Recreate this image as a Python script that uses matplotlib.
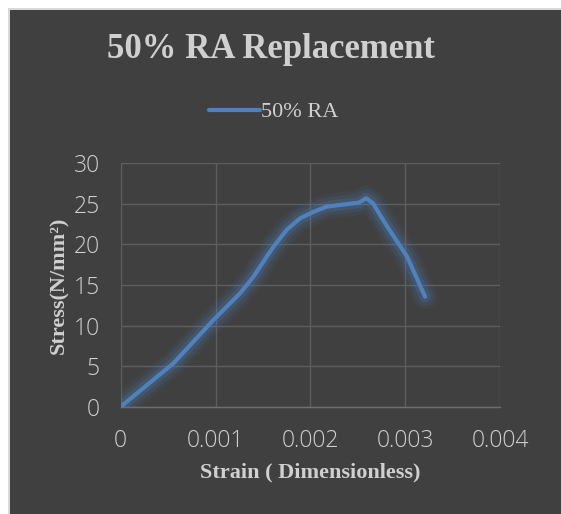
import matplotlib
matplotlib.use("Agg")
import matplotlib.pyplot as plt
import matplotlib.patheffects as pe
from matplotlib.patches import Rectangle

strain = [0, 0.000555, 0.000977, 0.001258, 0.001399, 0.00154, 0.00161, 0.00175,
          0.00189, 0.00203, 0.00217, 0.00231, 0.00251, 0.00259, 0.00266, 0.0028,
          0.00302, 0.00321]
stress = [0, 5.34, 10.68, 13.97, 16.0, 18.5, 19.7, 21.8,
          23.2, 24.0, 24.66, 24.86, 25.15, 25.7, 25.07, 22.4,
          18.5, 13.56]
series_name = "50% RA"
title = "50% RA Replacement"
xlabel = "Strain ( Dimensionless)"
ylabel = "Stress(N/mm\u00b2)"
xticks = [0, 0.001, 0.002, 0.003, 0.004]
xticklabels = ["0", "0.001", "0.002", "0.003", "0.004"]
yticks = [0, 5, 10, 15, 20, 25, 30]

W, H = 561, 514
bg = "#404040"
txt = "#d0d0d0"
line_c = "#4f81bd"
grid_c = "#5e5e5e"

fig = plt.figure(figsize=(W / 100, H / 100), dpi=100)
fig.patch.set_facecolor("white")
bgax = fig.add_axes([0, 0, 1, 1], zorder=-5)
bgax.set_axis_off()
bgax.set_xlim(0, 1)
bgax.set_ylim(0, 1)
bgax.add_patch(Rectangle((8 / W, 0), 1 - 8 / W, 1 - 8 / H, facecolor="#d9d9d9",
                         edgecolor="none"))
bgax.add_patch(Rectangle((10 / W, 0), 1 - 10 / W, 1 - 10 / H, facecolor=bg,
                         edgecolor="none"))

ax = fig.add_axes([120.7 / W, 1 - 406.7 / H, (500 - 120.7) / W, (406.7 - 163.3) / H],
                  zorder=1)
ax.patch.set_visible(False)

line, = ax.plot(strain, stress, color=line_c, lw=3, solid_capstyle="round",
                solid_joinstyle="round", label=series_name, zorder=3)
line.set_path_effects([
    pe.Stroke(linewidth=18, foreground=line_c, alpha=0.08),
    pe.Stroke(linewidth=13, foreground=line_c, alpha=0.12),
    pe.Stroke(linewidth=8, foreground=line_c, alpha=0.2),
    pe.Normal(),
])

ax.set_xlim(0, 0.004)
ax.set_ylim(0, 30)
ax.set_xticks(xticks)
ax.set_xticklabels(xticklabels)
ax.set_yticks(yticks)
ax.grid(True, color=grid_c, lw=1)
ax.set_axisbelow(True)
for s in ["top", "right", "left"]:
    ax.spines[s].set_visible(False)
ax.spines["bottom"].set_color("#6e6e6e")
ax.spines["bottom"].set_linewidth(1)
ax.tick_params(length=0, colors=txt, labelsize=16.5)
for lab in ax.get_xticklabels() + ax.get_yticklabels():
    lab.set_family(["Open Sans", "DejaVu Sans"])
    lab.set_fontweight("light")
    lab.set_color(txt)
ax.tick_params(axis="y", pad=15)
ax.tick_params(axis="x", pad=16)

serif = ["Liberation Serif", "DejaVu Serif"]
fig.text(271 / W, 1 - 50 / H, title, ha="center", va="center", fontsize=25,
         fontweight="bold", family=serif, color=txt)
ax.set_xlabel(xlabel, fontsize=16, fontweight="bold", family=serif, color=txt, labelpad=7)
ax.set_ylabel(ylabel, fontsize=16, fontweight="bold", family=serif, color=txt, labelpad=3)

leg = fig.legend(handles=[line], labels=[series_name], loc="center",
                 bbox_to_anchor=(274 / W, 1 - 112 / H), frameon=False,
                 prop={"family": serif, "size": 16}, handlelength=2.3,
                 handletextpad=0.05)
for t in leg.get_texts():
    t.set_color(txt)
leg.get_lines()[0].set_path_effects([pe.Normal()])

fig.savefig("out.png", dpi=100, facecolor=fig.get_facecolor())
